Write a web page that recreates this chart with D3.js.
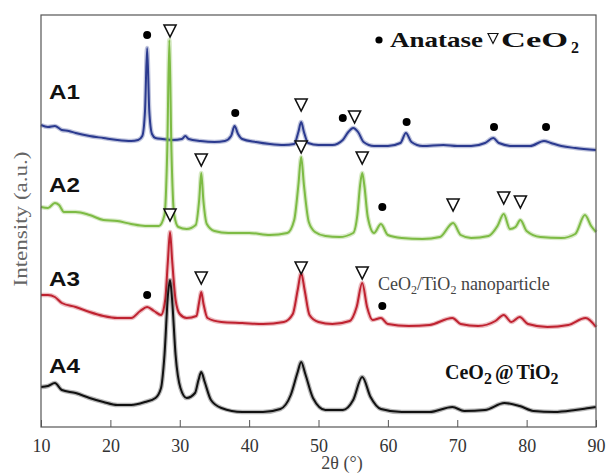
<!DOCTYPE html>
<html>
<head>
<meta charset="utf-8">
<script src="https://cdn.jsdelivr.net/npm/d3@7"></script>
<style>
  body { margin: 0; background: #fff; }
  svg { display: block; }
</style>
</head>
<body>
<div id="chart"></div>
<script>
// XRD patterns, [2theta, intensity a.u.]
var A1 = [[10,302],[11,300],[12,301],[13,297],[14,296],[15,294],[17,291],[19,289],[21,287],[23,286],[24,287],[24.6,291],[25.0,317],[25.3,379],[25.6,317],[26.0,293],[26.5,289],[27.5,288],[29,287],[30.3,288],[30.8,291],[31.3,288],[33,286],[35,285],[36.5,286],[37.4,291],[37.9,301],[38.4,293],[39,288],[41,285],[43,283],[45,282],[46.5,283],[47.1,295],[47.5,305],[47.9,295],[48.5,284],[50,282],[52,282],[53.5,287],[54.3,295],[55.0,299],[55.7,295],[56.5,285],[58,281],[60,281],[61.8,284],[62.6,294],[63.4,285],[65,281],[68,282],[70,281],[72,281],[74,284],[75.2,289],[76,284],[78,281],[80.5,281],[82.5,286],[83.5,284],[85,281],[87,279],[90,277]];
var A2 = [[10,220],[11,219],[12,224],[12.6,222],[13.3,215],[15,215],[17,212],[19,207],[21,206],[23,203],[25,201],[27,201],[27.8,212],[28.2,277],[28.5,387],[28.8,277],[29.2,212],[29.8,200],[31,198],[32.3,202],[32.8,227],[33.1,254],[33.4,227],[33.9,203],[35,196],[37,194],[40,194],[43,192],[45.5,194],[46.5,207],[47.1,242],[47.5,270],[47.9,242],[48.6,205],[49.5,195],[51,191],[53,190],[55,194],[55.6,212],[56.0,242],[56.3,254],[56.6,242],[57.1,210],[58,194],[59,203],[60,192],[62,189],[65,188],[67.5,190],[69.4,204],[70.5,192],[72,189],[74.5,191],[75.8,201],[76.7,213],[77.6,198],[78.4,200],[79.1,207],[80,196],[82,190],[85,189],[87,193],[88.4,212],[89.3,201],[90,195]];
var A3 = [[10,132],[11,132],[12,130],[13,124],[15,120],[17,115],[19,111],[21,109],[23,109],[24.3,116],[25.3,120],[26.3,116],[27.3,112],[27.9,127],[28.3,167],[28.6,195],[28.9,167],[29.4,127],[30,113],[31,109],[32.4,111],[32.8,125],[33.1,135],[33.4,124],[34,109],[36,105],[39,104],[42,103],[45,105],[46.3,113],[47.0,137],[47.5,154],[48.0,137],[48.7,112],[50,105],[52,103],[54.5,106],[55.5,120],[56.3,144],[57.0,120],[57.8,107],[59,109],[60,103],[63,101],[66,102],[69.3,109],[70.5,103],[73,101],[75.5,106],[76.7,112],[77.8,105],[79,110],[80.2,103],[83,100],[86,102],[88.5,109],[90,100]];
var A4 = [[10,40],[11,41],[12,44],[13,37],[15,34],[17,29],[19,25],[21,22],[23,22],[25,25],[26.5,29],[27.3,39],[27.8,72],[28.3,132],[28.6,147],[28.9,127],[29.4,72],[30.1,39],[31,29],[32.2,34],[32.7,47],[33.1,55],[33.6,45],[34.5,27],[36,19],[39,15],[42,15],[44.5,18],[46,32],[47.0,55],[47.5,65],[48.1,53],[49.2,29],[51,17],[53.5,17],[55.0,27],[56.3,50],[57.5,30],[59,18],[62,15],[66,15],[69.3,20],[71,16],[74,17],[76.8,24],[79,21],[81,16],[84,15],[87,17],[89,19],[90,20]];

var seriesNames = ['A1', 'A2', 'A3', 'A4'];
var seriesData = [A1, A2, A3, A4];
var seriesColors = ['#2b3a8f', '#7dbb44', '#bf2230', '#111111'];

// phase markers, [2theta, intensity a.u.]
var anataseMarks = [[25.3,392],[38,314],[53.5,309],[62.7,305],[75.3,300],[82.8,300],[59.2,220],[25.3,132],[59.2,121]];
var ceo2Marks = [[28.6,396],[47.5,322],[55.2,310],[33.1,267],[47.5,280],[56.3,269],[69.4,222],[76.7,229],[79.1,225],[28.6,212],[33.1,149],[47.5,159],[56.3,154]];

var xTicks = [10, 20, 30, 40, 50, 60, 70, 80, 90];

var width = 606, height = 473;
var margin = {top: 15, right: 10, bottom: 46, left: 41};
var serif = "'Liberation Serif', 'Times New Roman', serif";

var svg = d3.select('#chart').append('svg')
    .attr('width', width)
    .attr('height', height);

var x = d3.scaleLinear().domain([10, 90]).range([margin.left, width - margin.right]);
var y = d3.scaleLinear().domain([0, 412]).range([height - margin.bottom, margin.top]);

var line = d3.line()
    .x(function(d) { return x(d[0]); })
    .y(function(d) { return y(d[1]); })
    .curve(d3.curveMonotoneX);

// noisy look: light wide band under a darker core
seriesData.forEach(function(data, i) {
  svg.append('path')
      .attr('d', line(data))
      .attr('fill', 'none')
      .attr('stroke', seriesColors[i])
      .attr('stroke-opacity', 0.3)
      .attr('stroke-width', 4.5);
  svg.append('path')
      .attr('d', line(data))
      .attr('fill', 'none')
      .attr('stroke', seriesColors[i])
      .attr('stroke-width', 2);
});

// frame
svg.append('rect')
    .attr('x', margin.left)
    .attr('y', margin.top)
    .attr('width', width - margin.left - margin.right)
    .attr('height', height - margin.top - margin.bottom)
    .attr('fill', 'none')
    .attr('stroke', '#555')
    .attr('stroke-width', 1.2);

var xAxis = svg.append('g')
    .attr('transform', 'translate(0,' + (height - margin.bottom) + ')')
    .call(d3.axisBottom(x).tickValues(xTicks).tickSizeInner(-7).tickSizeOuter(0).tickPadding(12));
xAxis.attr('font-family', serif).attr('font-size', 18);
xAxis.select('.domain').remove();
xAxis.selectAll('line').attr('stroke', '#555');
xAxis.selectAll('text')
    .style('font-family', serif)
    .style('font-size', '18px')
    .attr('fill', '#333');

svg.append('text')
    .attr('x', 342).attr('y', 469)
    .attr('text-anchor', 'middle')
    .style('font-family', serif)
    .style('font-size', '18px')
    .attr('fill', '#444')
    .text('2θ (°)');

svg.append('text')
    .attr('transform', 'translate(27,219) rotate(-90)')
    .attr('text-anchor', 'middle')
    .style('font-family', serif)
    .style('font-size', '19px')
    .attr('fill', '#666')
    .attr('textLength', 135)
    .attr('lengthAdjust', 'spacingAndGlyphs')
    .text('Intensity (a.u.)');

// sample labels
var labelY = [99, 192, 286, 373];
seriesNames.forEach(function(n, i) {
  svg.append('text')
      .attr('x', 49).attr('y', labelY[i])
      .style('font-family', "'Liberation Sans', Arial, sans-serif")
      .attr('font-weight', 'bold')
      .style('font-size', '20px')
      .attr('fill', '#111')
      .attr('textLength', 31)
      .attr('lengthAdjust', 'spacingAndGlyphs')
      .text(n);
});

function triPath(cx, cy, w, h) {
  return 'M' + (cx - w / 2) + ',' + (cy - h / 2) + 'L' + (cx + w / 2) + ',' + (cy - h / 2) + 'L' + cx + ',' + (cy + h / 2) + 'Z';
}

svg.selectAll('circle.anatase')
    .data(anataseMarks)
    .enter().append('circle')
    .attr('class', 'anatase')
    .attr('cx', function(d) { return x(d[0]); })
    .attr('cy', function(d) { return y(d[1]); })
    .attr('r', 4)
    .attr('fill', '#000');

svg.selectAll('path.ceo2')
    .data(ceo2Marks)
    .enter().append('path')
    .attr('class', 'ceo2')
    .attr('d', function(d) { return triPath(x(d[0]), y(d[1]), 12, 12); })
    .attr('fill', '#fff')
    .attr('stroke', '#111')
    .attr('stroke-width', 1.6);

// legend
svg.append('circle').attr('cx', 379).attr('cy', 40).attr('r', 3.6).attr('fill', '#000');
svg.append('text')
    .attr('x', 390).attr('y', 47)
    .style('font-family', serif)
    .attr('font-weight', 'bold')
    .style('font-size', '21px')
    .attr('fill', '#111')
    .attr('textLength', 93)
    .attr('lengthAdjust', 'spacingAndGlyphs')
    .text('Anatase');
svg.append('path')
    .attr('d', triPath(493, 38.5, 10, 10))
    .attr('fill', '#fff')
    .attr('stroke', '#111')
    .attr('stroke-width', 1.2);
var leg = svg.append('text')
    .attr('x', 501).attr('y', 47)
    .style('font-family', serif)
    .attr('font-weight', 'bold')
    .style('font-size', '21px')
    .attr('fill', '#111');
leg.append('tspan').attr('textLength', 67).attr('lengthAdjust', 'spacingAndGlyphs').text('CeO');
leg.append('tspan').attr('x', 571).attr('y', 53).style('font-size', '16px').text('2');

// CeO2/TiO2 nanoparticle
var np = svg.append('text')
    .attr('x', 378).attr('y', 290)
    .style('font-family', serif)
    .style('font-size', '18px')
    .attr('fill', '#444');
np.append('tspan').text('CeO');
np.append('tspan').style('font-size', '12px').attr('dy', 4).text('2');
np.append('tspan').attr('dy', -4).text('/TiO');
np.append('tspan').style('font-size', '12px').attr('dy', 4).text('2');
np.append('tspan').attr('dy', -4).text(' nanoparticle');

// CeO2@TiO2
var cs = svg.append('text')
    .attr('x', 445).attr('y', 379)
    .style('font-family', serif)
    .attr('font-weight', 'bold')
    .style('font-size', '20px')
    .attr('fill', '#111');
cs.append('tspan').text('CeO');
cs.append('tspan').style('font-size', '16px').attr('dy', 5).text('2');
cs.append('tspan').attr('dy', -5).attr('dx', 3).text('@');
cs.append('tspan').attr('dx', 3).text('TiO');
cs.append('tspan').style('font-size', '16px').attr('dy', 5).text('2');
</script>
</body>
</html>
